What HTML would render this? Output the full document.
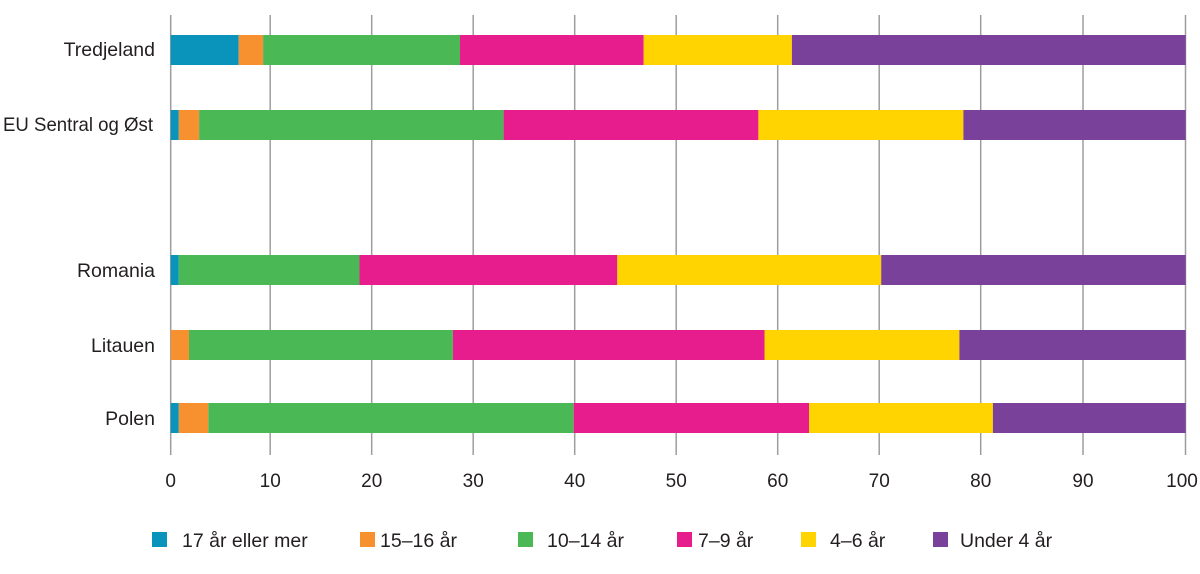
<!DOCTYPE html>
<html><head><meta charset="utf-8"><style>
body{margin:0;background:#fff;}
svg text{font-family:"Liberation Sans",sans-serif;fill:#231f20;}
</style></head><body>
<svg width="1200" height="569" xmlns="http://www.w3.org/2000/svg">
<g stroke="#9d9d9d" stroke-width="1.5">
<line x1="170.7" y1="15" x2="170.7" y2="455"/><line x1="270.2" y1="15" x2="270.2" y2="455"/>
<line x1="371.7" y1="15" x2="371.7" y2="455"/><line x1="473.2" y1="15" x2="473.2" y2="455"/>
<line x1="574.7" y1="15" x2="574.7" y2="455"/><line x1="676.2" y1="15" x2="676.2" y2="455"/>
<line x1="777.7" y1="15" x2="777.7" y2="455"/><line x1="879.2" y1="15" x2="879.2" y2="455"/>
<line x1="980.7" y1="15" x2="980.7" y2="455"/><line x1="1083" y1="15" x2="1083" y2="455"/>
<line x1="1185.5" y1="15" x2="1185.5" y2="455"/>
</g>
<g>
<rect x="170.7" y="35" width="68" height="30" fill="#0a94bc"/>
<rect x="238.7" y="35" width="24.4" height="30" fill="#f7902e"/>
<rect x="263.1" y="35" width="196.9" height="30" fill="#4ab855"/>
<rect x="460" y="35" width="183.7" height="30" fill="#e81d8d"/>
<rect x="643.7" y="35" width="148.2" height="30" fill="#ffd400"/>
<rect x="791.9" y="35" width="393.8" height="30" fill="#794199"/>

<rect x="170.7" y="110" width="8.1" height="30" fill="#0a94bc"/>
<rect x="178.8" y="110" width="20.3" height="30" fill="#f7902e"/>
<rect x="199.1" y="110" width="304.5" height="30" fill="#4ab855"/>
<rect x="503.6" y="110" width="254.8" height="30" fill="#e81d8d"/>
<rect x="758.4" y="110" width="205" height="30" fill="#ffd400"/>
<rect x="963.4" y="110" width="222.3" height="30" fill="#794199"/>

<rect x="170.7" y="255" width="8.1" height="30" fill="#0a94bc"/>
<rect x="178.8" y="255" width="180.7" height="30" fill="#4ab855"/>
<rect x="359.5" y="255" width="257.8" height="30" fill="#e81d8d"/>
<rect x="617.3" y="255" width="263.9" height="30" fill="#ffd400"/>
<rect x="881.2" y="255" width="304.5" height="30" fill="#794199"/>

<rect x="170.7" y="330" width="18.3" height="30" fill="#f7902e"/>
<rect x="189" y="330" width="263.9" height="30" fill="#4ab855"/>
<rect x="452.9" y="330" width="311.6" height="30" fill="#e81d8d"/>
<rect x="764.5" y="330" width="194.9" height="30" fill="#ffd400"/>
<rect x="959.4" y="330" width="226.3" height="30" fill="#794199"/>

<rect x="170.7" y="403" width="8.1" height="30" fill="#0a94bc"/>
<rect x="178.8" y="403" width="29.5" height="30" fill="#f7902e"/>
<rect x="208.3" y="403" width="365.4" height="30" fill="#4ab855"/>
<rect x="573.7" y="403" width="235.4" height="30" fill="#e81d8d"/>
<rect x="809.1" y="403" width="183.8" height="30" fill="#ffd400"/>
<rect x="992.9" y="403" width="192.8" height="30" fill="#794199"/>
</g>
<g font-size="19" text-anchor="middle">
<text x="170.7" y="487">0</text><text x="270.2" y="487">10</text><text x="371.7" y="487">20</text>
<text x="473.2" y="487">30</text><text x="574.7" y="487">40</text><text x="676.2" y="487">50</text>
<text x="777.7" y="487">60</text><text x="879.2" y="487">70</text><text x="980.7" y="487">80</text>
<text x="1083" y="487">90</text><text x="1182" y="487">100</text>
</g>
<g font-size="19.5" text-anchor="end">
<text x="155" y="56">Tredjeland</text>
<text x="153" y="131" textLength="150" lengthAdjust="spacingAndGlyphs">EU Sentral og Øst</text>
<text x="155" y="277">Romania</text>
<text x="155" y="352">Litauen</text>
<text x="155" y="425">Polen</text>
</g>
<g font-size="19.5">
<rect x="152" y="532" width="15" height="15" fill="#0a94bc"/><text x="182" y="547">17 år eller mer</text>
<rect x="360" y="532" width="15" height="15" fill="#f7902e"/><text x="380" y="547">15–16 år</text>
<rect x="518" y="532" width="15" height="15" fill="#4ab855"/><text x="547" y="547">10–14 år</text>
<rect x="677" y="532" width="15" height="15" fill="#e81d8d"/><text x="698" y="547">7–9 år</text>
<rect x="801" y="532" width="15" height="15" fill="#ffd400"/><text x="830" y="547">4–6 år</text>
<rect x="933" y="532" width="15" height="15" fill="#794199"/><text x="960" y="547">Under 4 år</text>
</g>
</svg>
</body></html>
